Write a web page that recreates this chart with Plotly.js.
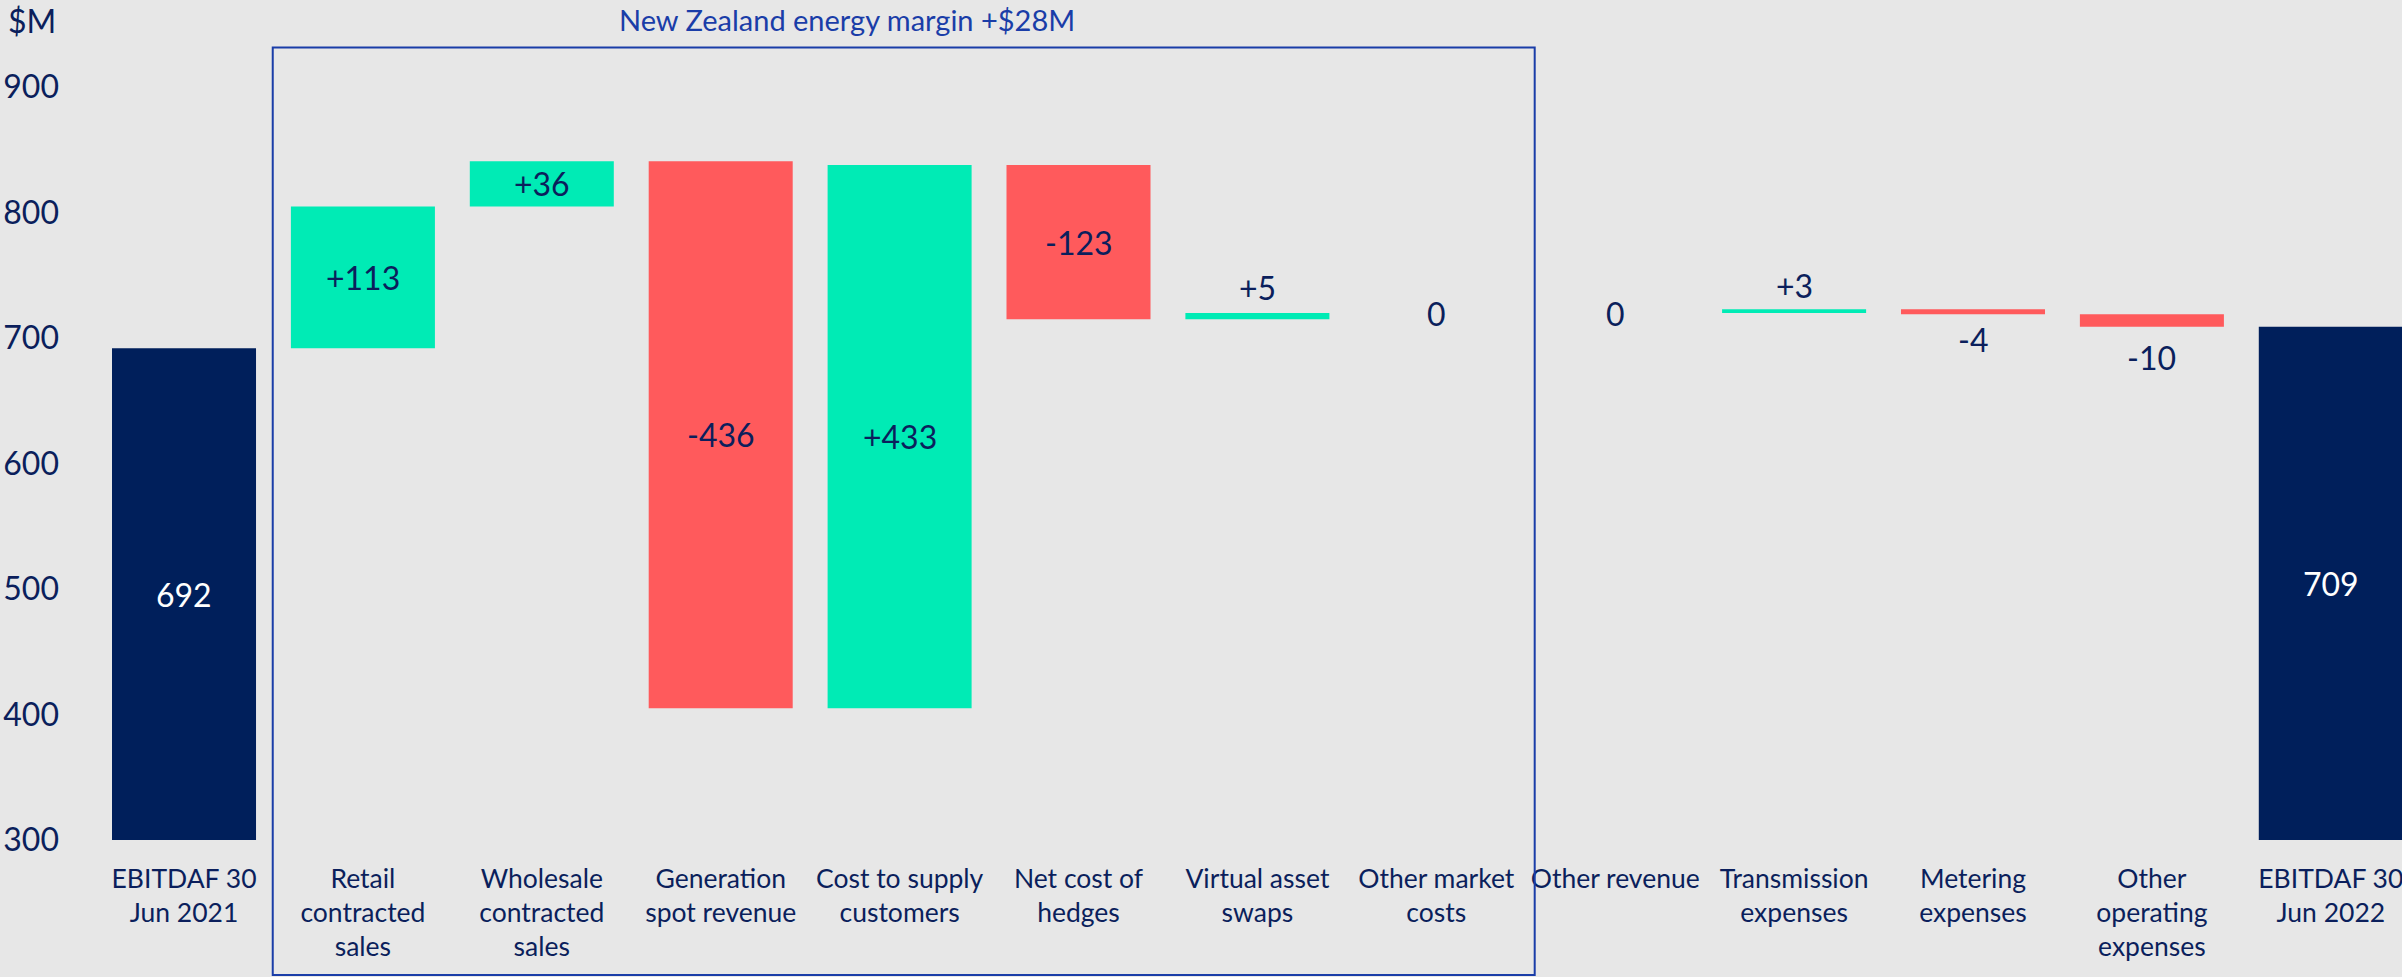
<!DOCTYPE html>
<html>
<head>
<meta charset="utf-8">
<script src="https://cdn.plot.ly/plotly-3.0.1.min.js"></script>
<style>
  html, body { margin: 0; padding: 0; background: #E7E7E7; }
  #chart { width: 2402px; height: 977px; }
</style>
</head>
<body>
<div id="chart"></div>
<script>
// ---- data ----
const categories = [
  "EBITDAF 30<br>Jun 2021",
  "Retail<br>contracted<br>sales",
  "Wholesale<br>contracted<br>sales",
  "Generation<br>spot revenue",
  "Cost to supply<br>customers",
  "Net cost of<br>hedges",
  "Virtual asset<br>swaps",
  "Other market<br>costs",
  "Other revenue",
  "Transmission<br>expenses",
  "Metering<br>expenses",
  "Other<br>operating<br>expenses",
  "EBITDAF 30<br>Jun 2022"
];
const values = [692, 113, 36, -436, 433, -123, 5, 0, 0, 3, -4, -10, 709];
const measures = ["absolute", "relative", "relative", "relative", "relative", "relative",
                  "relative", "relative", "relative", "relative", "relative", "relative", "total"];
const yTicks = [300, 400, 500, 600, 700, 800, 900];
const yRange = [300, 953.6];
const chartTitle = "New Zealand energy margin +$28M";
const unitLabel = "$M";

// ---- styles ----
const NAVY = "#001F5B";
const GREEN = "#00EBB5";
const RED = "#FF5A5C";
const BLUE = "#1A3DA8";
const TXT = "#0B1F5C";
const BG = "#E7E7E7";
const FONT = "Lato, 'Open Sans', sans-serif";

// running totals for label placement
const annotations = [];
let level = 0;
values.forEach((v, i) => {
  let start, end;
  if (measures[i] === "absolute") { start = yRange[0]; end = v; level = v; }
  else if (measures[i] === "total") { start = yRange[0]; end = level; }
  else { start = level; end = level + v; level = end; }
  const isTotal = measures[i] !== "relative";
  const txt = isTotal ? String(v) : (v > 0 ? "+" + v : String(v));
  let y = (start + end) / 2, yshift = 0;
  if (!isTotal && Math.abs(v) < 20) {
    y = end;
    yshift = v > 0 ? (21 + Math.abs(v)) : (v < 0 ? -(21 + Math.abs(v)) : 0);
  }
  annotations.push({
    x: i, y: y, xref: "x", yref: "y", text: txt, showarrow: false,
    yshift: yshift, yanchor: "middle", xanchor: "center",
    font: { family: FONT, size: 32, color: isTotal ? "#FFFFFF" : TXT }
  });
});

annotations.push({
  x: 3.706, y: 1.0012, xref: "x", yref: "paper", text: chartTitle, showarrow: false,
  xanchor: "center", yanchor: "middle",
  font: { family: FONT, size: 29, color: BLUE }
});
annotations.push({
  x: -0.0239, y: 1.0, xref: "paper", yref: "paper", text: unitLabel, showarrow: false,
  xanchor: "left", yanchor: "middle",
  font: { family: FONT, size: 32, color: TXT }
});

const trace = {
  type: "waterfall",
  x: categories.map((c, i) => i),
  y: values,
  measure: measures,
  textinfo: "none",
  hoverinfo: "skip",
  connector: { visible: false },
  increasing: { marker: { color: GREEN } },
  decreasing: { marker: { color: RED } },
  totals: { marker: { color: NAVY } }
};

const layout = {
  width: 2402, height: 977,
  margin: { l: 62, r: 0, t: 20, b: 137 },
  paper_bgcolor: BG, plot_bgcolor: BG,
  showlegend: false,
  waterfallgap: 0.195,
  font: { family: FONT, color: TXT },
  xaxis: {
    type: "linear",
    range: [-0.682, 12.398],
    tickvals: categories.map((c, i) => i),
    ticktext: categories,
    showgrid: false, zeroline: false, showline: false, ticks: "",
    tickfont: { family: FONT, size: 26.5, color: TXT },
    ticklabelstandoff: 20,
    ticklabeloverflow: "allow"
  },
  yaxis: {
    range: yRange,
    tickvals: yTicks,
    showgrid: false, zeroline: false, showline: false, ticks: "",
    tickfont: { family: FONT, size: 32, color: TXT },
    ticklabelstandoff: 2
  },
  shapes: [{
    type: "rect", xref: "x", yref: "paper",
    x0: 0.496, x1: 7.55, y0: -0.1646, y1: 0.9665,
    line: { color: BLUE, width: 2 }, fillcolor: "rgba(0,0,0,0)", layer: "above"
  }],
  annotations: annotations
};

Plotly.newPlot("chart", [trace], layout, { displayModeBar: false, staticPlot: true });
</script>
</body>
</html>
